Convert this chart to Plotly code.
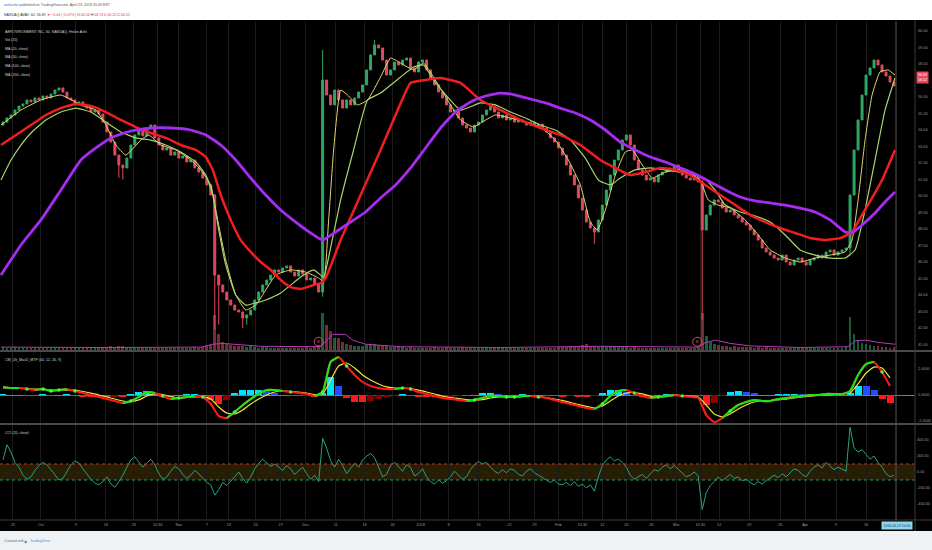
import plotly.graph_objects as go

W, H = 932, 550

# ---------------- data ----------------
bar_x = list(range(2, 898, 4))          # hourly bar index (sampled)
first_open = 54.30
close = [
    54.48, 54.73, 54.91, 55.21, 55.45, 55.58, 55.82, 55.70, 55.94, 55.82,
    56.06, 55.94, 56.18, 56.42, 56.55, 56.30, 55.94, 55.82, 55.58, 55.70,
    55.45, 55.33, 55.09, 55.21, 54.97, 54.48, 53.88, 53.27, 52.48, 51.88,
    51.70, 52.30, 53.09, 53.70, 54.00, 53.64, 54.12, 54.30, 53.52, 53.09,
    52.79, 52.91, 52.48, 52.67, 52.30, 52.42, 52.06, 52.18, 51.70, 51.45,
    51.09, 50.67, 50.06, 45.21, 44.61, 44.18, 43.70, 43.39, 43.09, 42.97,
    42.61, 42.79, 43.09, 43.70, 44.18, 44.61, 44.91, 45.21, 45.52, 45.39,
    45.64, 45.76, 45.39, 45.15, 45.52, 45.27, 44.91, 45.03, 44.67, 44.18,
    57.03, 56.12, 55.52, 56.42, 55.82, 55.33, 55.82, 55.52, 55.94, 56.30,
    56.73, 57.64, 58.55, 59.15, 58.97, 58.24, 57.33, 57.64, 58.12, 57.94,
    58.24, 58.36, 57.76, 57.52, 58.12, 58.24, 57.64, 57.15, 56.73, 56.30,
    55.94, 55.52, 55.09, 55.21, 54.73, 54.30, 54.12, 53.88, 54.30, 54.48,
    54.91, 55.21, 55.45, 55.09, 54.73, 54.91, 54.61, 54.73, 54.48, 54.61,
    54.48, 54.30, 54.48, 54.24, 54.36, 54.12, 53.88, 53.52, 53.27, 52.91,
    52.48, 51.88, 51.27, 50.67, 49.88, 49.15, 48.42, 48.06, 47.82, 48.55,
    49.45, 50.36, 51.27, 52.18, 52.79, 53.39, 53.70, 53.09, 52.18, 51.58,
    51.27, 50.97, 51.09, 50.85, 51.27, 51.45, 51.70, 51.58, 51.88, 51.45,
    51.27, 51.09, 50.97, 51.21, 50.85, 47.94, 48.85, 49.45, 49.76, 49.64,
    49.27, 49.03, 49.15, 48.85, 48.67, 48.42, 48.24, 47.94, 47.64, 47.33,
    46.85, 46.61, 46.42, 46.24, 46.12, 46.42, 46.00, 45.82, 46.12, 46.24,
    46.00, 45.82, 46.12, 46.24, 46.42, 46.24, 46.61, 46.73, 46.42, 46.61,
    46.73, 46.85, 50.06, 52.79, 54.61, 56.12, 57.33, 57.76, 58.24, 57.94,
    57.52, 57.27, 56.91, 56.67,
]
wick_high = {53: 50.10, 80: 58.85, 93: 59.45, 175: 51.00}
wick_low = {29: 51.10, 30: 51.00, 53: 41.90, 54: 42.20, 60: 42.00, 61: 42.20,
            80: 43.90, 148: 47.10, 175: 42.50, 212: 46.50}

volume_k = [
    8, 6, 5, 7, 5, 6, 5, 4, 6, 5,
    5, 4, 6, 5, 4, 5, 6, 5, 4, 5,
    5, 6, 5, 4, 6, 8, 7, 9, 8, 10,
    9, 7, 6, 5, 6, 5, 6, 5, 4, 5,
    5, 4, 5, 6, 5, 4, 5, 6, 7, 6,
    8, 9, 12, 85, 40, 20, 15, 12, 10, 9,
    10, 8, 9, 7, 6, 7, 8, 6, 5, 6,
    5, 6, 5, 6, 5, 6, 7, 6, 8, 12,
    90, 60, 45, 30, 30, 20, 15, 12, 10, 9,
    10, 12, 14, 15, 12, 10, 9, 8, 7, 8,
    7, 6, 7, 6, 5, 6, 5, 6, 7, 6,
    6, 7, 6, 5, 6, 7, 6, 5, 6, 5,
    5, 6, 5, 4, 5, 6, 5, 4, 5, 4,
    4, 5, 4, 5, 4, 5, 6, 5, 6, 7,
    7, 8, 9, 8, 10, 12, 14, 10, 9, 8,
    9, 8, 10, 9, 8, 7, 8, 6, 7, 6,
    6, 5, 6, 5, 6, 5, 4, 5, 4, 5,
    5, 6, 5, 6, 8, 90, 35, 20, 14, 12,
    10, 9, 8, 9, 8, 7, 8, 7, 6, 7,
    6, 7, 6, 5, 6, 5, 6, 5, 4, 5,
    5, 4, 5, 4, 5, 4, 5, 6, 5, 6,
    6, 8, 80, 40, 25, 18, 14, 12, 10, 9,
    8, 7, 6, 7,
]
volma_x = [0, 100, 200, 212, 222, 240, 260, 320, 326, 332, 345, 352, 365, 380,
           400, 500, 600, 698, 705, 715, 730, 750, 800, 848, 855, 865, 880, 895]
volma_k = [7, 6, 7, 14, 16, 13, 9, 8, 22, 38, 38, 24, 14, 11,
           8, 6, 9, 7, 18, 24, 16, 10, 6, 8, 22, 24, 18, 14]
earnings_x = [318, 697]

ma20_x = [0, 20, 40, 60, 80, 95, 105, 115, 125, 140, 148, 160, 175, 190, 200,
          210, 215, 225, 235, 245, 255, 265, 275, 290, 305, 318, 323, 328, 333, 340,
          347, 357, 367, 380, 390, 400, 413, 423, 433, 447, 460, 473, 480, 495, 510,
          525, 540, 555, 568, 580, 590, 597, 605, 615, 625, 632, 642, 652, 665, 680,
          692, 700, 708, 718, 730, 745, 758, 770, 785, 800, 815, 830, 845, 852, 858,
          865, 872, 880, 888, 895]
ma20 = [54.30, 55.21, 55.82, 56.12, 55.52, 55.21, 54.30, 53.09, 52.48, 53.39,
        53.70, 53.09, 52.79, 52.18, 51.58, 50.67, 49.15, 46.12, 44.00, 43.09,
        43.39, 44.30, 45.21, 45.52, 45.39, 45.03, 44.79, 48.55, 52.79, 56.42,
        56.12, 55.52, 55.82, 57.21, 58.36, 58.06, 57.64, 58.06, 57.21, 55.82,
        54.61, 54.18, 54.42, 54.91, 54.73, 54.48, 54.18, 53.39, 52.18, 50.67,
        48.42, 47.94, 49.15, 51.27, 52.67, 52.79, 51.88, 51.09, 51.45, 51.58,
        51.27, 50.97, 49.76, 49.45, 49.27, 48.55, 47.64, 46.73, 46.24, 46.00,
        46.24, 46.42, 46.61, 47.33, 49.76, 53.39, 56.12, 57.52, 57.64, 57.33]

ma50_x = [0, 10, 20, 30, 45, 60, 75, 90, 105, 120, 135, 150, 165, 180, 195,
          205, 212, 218, 225, 235, 245, 255, 265, 280, 300, 313, 323, 327, 340, 353,
          367, 380, 400, 413, 423, 433, 447, 460, 480, 495, 510, 525, 540, 555, 570,
          585, 598, 610, 620, 635, 650, 665, 680, 695, 705, 715, 725, 740, 755, 770,
          785, 800, 815, 830, 845, 855, 865, 875, 885, 895]
ma50 = [50.97, 52.18, 53.09, 53.82, 54.61, 55.09, 55.33, 55.09, 54.48, 53.88,
        53.52, 53.39, 53.09, 52.67, 52.06, 51.27, 50.06, 47.94, 45.82, 44.00,
        43.39, 43.52, 43.70, 44.12, 45.09, 45.52, 45.09, 46.00, 49.76, 52.79,
        55.82, 56.24, 57.21, 57.82, 57.94, 57.03, 56.00, 55.21, 55.64, 55.52,
        55.09, 54.73, 54.30, 54.00, 53.39, 52.30, 50.97, 50.67, 51.09, 51.58,
        51.70, 51.58, 51.45, 51.27, 51.03, 50.36, 49.45, 49.03, 48.79, 48.42,
        47.64, 46.73, 46.42, 46.24, 46.24, 46.73, 49.15, 52.18, 55.21, 57.15]

ma100_x = [0, 15, 30, 45, 60, 75, 90, 105, 120, 135, 150, 165, 180, 195, 205,
           212, 220, 230, 240, 250, 260, 270, 280, 290, 300, 310, 320, 325, 340, 360,
           380, 395, 410, 425, 440, 460, 480, 500, 520, 540, 560, 580, 600, 615, 630,
           645, 660, 675, 690, 705, 720, 735, 750, 765, 780, 795, 810, 825, 840, 852,
           862, 872, 882, 895]
ma100 = [53.09, 53.70, 54.30, 54.91, 55.33, 55.58, 55.45, 55.09, 54.61, 54.18,
         53.82, 53.52, 53.09, 52.79, 52.36, 51.58, 50.06, 48.55, 47.33, 46.61,
         46.00, 45.52, 44.91, 44.48, 44.36, 44.55, 44.73, 45.03, 47.33, 50.06,
         52.79, 54.91, 56.85, 57.03, 57.15, 56.85, 55.82, 55.21, 54.61, 54.12,
         53.70, 53.09, 52.18, 51.70, 51.27, 51.45, 51.70, 51.58, 51.27, 50.67,
         50.06, 49.45, 48.85, 48.42, 48.06, 47.76, 47.45, 47.33, 47.45, 47.82,
         48.85, 49.88, 50.97, 52.79]

ma200_x = [0, 20, 40, 60, 80, 95, 110, 130, 150, 170, 190, 205, 220, 235, 250,
           265, 280, 295, 310, 322, 335, 350, 365, 380, 395, 410, 425, 440, 455, 470,
           485, 500, 515, 530, 545, 560, 575, 590, 605, 620, 635, 650, 665, 680, 695,
           710, 725, 740, 755, 770, 785, 800, 815, 830, 845, 852, 862, 875, 885, 895]
ma200 = [45.21, 47.03, 48.55, 50.36, 52.18, 52.91, 53.52, 53.94, 54.12, 54.12,
         54.00, 53.70, 53.09, 52.18, 51.09, 50.06, 49.15, 48.42, 47.76, 47.33,
         47.82, 48.42, 49.03, 49.88, 50.67, 51.70, 52.91, 54.12, 55.09, 55.70,
         56.06, 56.24, 56.12, 55.88, 55.64, 55.33, 55.03, 54.61, 54.00, 53.27,
         52.79, 52.36, 52.06, 51.70, 51.33, 50.85, 50.36, 49.94, 49.70, 49.58,
         49.45, 49.27, 49.03, 48.55, 47.82, 47.76, 48.24, 48.97, 49.64, 50.24]

macd_x = list(range(2, 898, 8))
macd = [0.62, 0.54, 0.54, 0.46, 0.38, 0.46, 0.31, 0.38, 0.46, 0.31,
        0.15, 0.0, -0.15, -0.31, -0.46, -0.62, -0.46, -0.15, 0.23, 0.15,
        -0.08, -0.31, -0.23, -0.15, -0.08, -0.15, -0.69, -1.62, -1.77, -1.31,
        -0.77, -0.31, 0.08, 0.38, 0.38, 0.31, 0.23, 0.15, 0.08, -0.08,
        0.23, 2.54, 2.92, 2.23, 1.54, 1.0, 0.69, 0.54, 0.46, 0.46,
        0.54, 0.46, 0.23, 0.08, -0.08, -0.23, -0.31, -0.38, -0.46, -0.38,
        -0.23, -0.08, -0.08, -0.15, -0.15, -0.08, -0.08, -0.15, -0.23, -0.38,
        -0.54, -0.69, -0.85, -1.0, -1.08, -0.69, -0.08, 0.31, 0.38, 0.15,
        -0.08, -0.23, -0.15, -0.08, 0.0, -0.08, -0.15, -0.23, -1.54, -2.08,
        -1.77, -1.23, -0.77, -0.54, -0.38, -0.46, -0.46, -0.31, -0.23, -0.15,
        -0.08, 0.0, 0.0, 0.08, 0.08, 0.08, 0.31, 1.54, 2.38, 2.54,
        1.77, 0.69]
signal = [0.54, 0.54, 0.54, 0.50, 0.46, 0.42, 0.38, 0.38, 0.38, 0.38,
          0.27, 0.15, 0.0, -0.15, -0.31, -0.46, -0.50, -0.38, -0.08, 0.08,
          0.04, -0.12, -0.23, -0.19, -0.15, -0.12, -0.31, -0.92, -1.38, -1.46,
          -1.15, -0.69, -0.31, 0.0, 0.23, 0.31, 0.27, 0.23, 0.15, 0.04,
          0.08, 1.15, 2.23, 2.46, 2.08, 1.54, 1.15, 0.85, 0.62, 0.54,
          0.50, 0.50, 0.38, 0.23, 0.08, -0.08, -0.19, -0.27, -0.35, -0.38,
          -0.35, -0.23, -0.15, -0.12, -0.15, -0.12, -0.08, -0.12, -0.19, -0.31,
          -0.42, -0.58, -0.73, -0.88, -1.0, -0.85, -0.46, -0.08, 0.15, 0.19,
          0.08, -0.08, -0.15, -0.12, -0.04, -0.04, -0.08, -0.15, -0.77, -1.46,
          -1.69, -1.46, -1.08, -0.77, -0.54, -0.46, -0.46, -0.38, -0.31, -0.23,
          -0.15, -0.08, -0.04, 0.0, 0.04, 0.08, 0.15, 0.85, 1.69, 2.15,
          2.08, 1.31]

cci = [
    150, 340, 250, 120, 60, -40, -90, -60, 20, 80,
    120, 90, 30, -40, -100, -80, 10, 90, 140, 110,
    40, -30, -90, -140, -160, -120, -60, -150, -190, -120,
    -40, 60, 150, 190, 120, 60, 110, 160, 90, -20,
    -90, -60, 10, 70, 40, -30, -80, -40, 20, -20,
    -80, -130, -160, -290, -220, -130, -170, -120, -60, 0,
    -80, -140, -60, 40, 110, 160, 120, 70, 100, 60,
    20, 80, 40, -30, 10, 60, -20, -90, -40, -120,
    420, 300, 140, 60, 160, 80, -20, 40, 110, 60,
    150, 200, 230, 180, 60, -60, -30, 80, 120, 60,
    10, 90, 60, -50, -20, 40, -60, -120, -150, -100,
    -140, -110, -60, 10, -40, -90, -60, 30, 90, 130,
    100, 120, 60, 10, -20, 30, -10, 40, 20, -30,
    -50, 10, 40, -10, -40, -70, -110, -130, -100, -150,
    -160, -130, -170, -120, -180, -150, -200, -160, -240, -60,
    80, 150, 190, 140, 160, 120, 60, -40, -90, -60,
    -30, -80, -20, 30, 10, 60, 90, 40, 80, 30,
    -20, -60, -40, 0, -50, -470, -260, -170, -120, -60,
    -110, -70, -30, -80, -60, -110, -90, -130, -160, -120,
    -150, -110, -80, -40, -70, -20, -60, -10, 40, 20,
    -30, -60, 10, 60, 90, 50, 120, 70, 30, 60,
    40, 10, 560, 300, 250, 280, 220, 160, 200, 120,
    60, -20, -60, -40,
]

price_ticks = list(range(41, 61))
macd_ticks = [-2, 0, 2]
cci_ticks = [-400, -200, 0, 200, 400]
time_tickvals = [12, 40, 75, 105, 133, 157, 178, 206, 228, 255, 280, 305, 335, 364,
                 392, 420, 448, 478, 509, 534, 558, 582, 602, 626, 651, 676, 700,
                 719, 749, 780, 805, 836, 866]
time_ticktext = ["25", "Oct", "9", "16", "23", "10:30", "Nov", "7", "13", "20", "27",
                 "Dec", "11", "18", "26", "2018", "8", "16", "22", "29", "Feb", "10:30",
                 "12", "20", "26", "Mar", "10:30", "12", "19", "26", "Apr", "9", "16"]
crosshair_x = 896
crosshair_label = "2018-04-23 10:00"
last_price_lines = ["56.69", "56.52"]

# ---------------- derived marks ----------------
UP, DOWN = '#2fa865', '#e04a5f'
opens = [first_open] + close[:-1]
highs = [wick_high.get(i, max(o, c)) for i, (o, c) in enumerate(zip(opens, close))]
lows = [wick_low.get(i, min(o, c)) for i, (o, c) in enumerate(zip(opens, close))]
vol_colors = ['rgba(47,168,101,0.55)' if c >= o else 'rgba(224,74,95,0.55)'
              for o, c in zip(opens, close)]

state = [m >= s for m, s in zip(macd, signal)]
n = len(macd)
lime_y = [m if (state[i] or (i + 1 < n and state[i + 1])) else None for i, m in enumerate(macd)]
cross_x = [macd_x[i] for i in range(1, n) if state[i] != state[i - 1]]
cross_y = [macd[i] for i in range(1, n) if state[i] != state[i - 1]]
hist = [m - s for m, s in zip(macd, signal)]
hist_colors = []
for i, h in enumerate(hist):
    p = hist[i - 1] if i > 0 else h
    if h > 0:
        hist_colors.append('#00e5ff' if h >= p else '#1f4fff')
    else:
        hist_colors.append('#ff1a1a' if h <= p else '#8b0000')

# ---------------- geometry ----------------
def py(y):
    return 1 - y / H

XD = 915 / W
FONT = "Liberation Sans, Arial, sans-serif"

fig = go.Figure()

# volume (base axis of main pane)
fig.add_trace(go.Bar(x=bar_x, y=volume_k, marker_color=vol_colors, marker_line_width=0,
                     width=2.8, xaxis='x', yaxis='y'))
fig.add_trace(go.Scatter(x=volma_x, y=volma_k, mode='lines',
                         line=dict(color='#b23cb8', width=1), xaxis='x', yaxis='y'))
fig.add_trace(go.Scatter(x=earnings_x, y=[20, 20], mode='markers+text', text=['E', 'E'],
                         textfont=dict(size=4, color='#e0506a', family=FONT),
                         marker=dict(symbol='circle-open', size=9, color='#d0506a',
                                     line=dict(width=1)),
                         xaxis='x', yaxis='y'))

# price (overlay axis)
fig.add_trace(go.Candlestick(x=bar_x, open=opens, high=highs, low=lows, close=close,
                             increasing=dict(line=dict(color=UP, width=1), fillcolor=UP),
                             decreasing=dict(line=dict(color=DOWN, width=1), fillcolor=DOWN),
                             whiskerwidth=0, xaxis='x', yaxis='y2'))
for xs, ys, col, wd in [(ma20_x, ma20, '#e3d56a', 1.0), (ma50_x, ma50, '#a5d66e', 1.2),
                        (ma100_x, ma100, '#f01e1e', 2.5), (ma200_x, ma200, '#a52cf0', 2.8)]:
    fig.add_trace(go.Scatter(x=xs, y=ys, mode='lines',
                             line=dict(color=col, width=wd, shape='spline', smoothing=0.4),
                             xaxis='x', yaxis='y2'))

# MACD pane
fig.add_trace(go.Bar(x=macd_x, y=hist, marker_color=hist_colors, marker_line_width=0,
                     width=7.0, xaxis='x2', yaxis='y3'))
fig.add_trace(go.Scatter(x=macd_x, y=signal, mode='lines',
                         line=dict(color='#f2e33c', width=1.2, shape='spline', smoothing=0.5),
                         xaxis='x2', yaxis='y3'))
fig.add_trace(go.Scatter(x=macd_x, y=macd, mode='lines',
                         line=dict(color='#ff1a1a', width=2.1, shape='spline', smoothing=0.5),
                         xaxis='x2', yaxis='y3'))
fig.add_trace(go.Scatter(x=macd_x, y=lime_y, mode='lines', connectgaps=False,
                         line=dict(color='#19e619', width=2.1, shape='spline', smoothing=0.5),
                         xaxis='x2', yaxis='y3'))
fig.add_trace(go.Scatter(x=cross_x, y=cross_y, mode='markers',
                         marker=dict(color='#3cff3c', size=3.5), xaxis='x2', yaxis='y3'))

# CCI pane
fig.add_trace(go.Scatter(x=bar_x, y=cci, mode='lines', line=dict(color='#27a37f', width=1),
                         xaxis='x3', yaxis='y4'))

grid = dict(showgrid=True, gridcolor='#1b1b1b', gridwidth=1, tickmode='array',
            tickvals=time_tickvals, zeroline=False, showline=False, range=[-1, 915],
            domain=[0, XD], fixedrange=True)
axfont = dict(size=3.8, color='#9c9c9c', family=FONT)

fig.update_layout(
    width=W, height=H, margin=dict(l=0, r=0, t=0, b=0),
    paper_bgcolor='#ffffff', plot_bgcolor='#000000', showlegend=False,
    hovermode=False, dragmode=False, bargap=0,
    font=dict(family=FONT, size=4, color='#cccccc'),
    xaxis=dict(**grid, anchor='y', showticklabels=False, rangeslider=dict(visible=False)),
    xaxis2=dict(**grid, anchor='y3', showticklabels=False, matches='x'),
    xaxis3=dict(**grid, anchor='y4', ticktext=time_ticktext, showticklabels=True,
                tickfont=axfont, ticks='', ticklabelstandoff=2, matches='x'),
    yaxis=dict(domain=[py(350), py(21)], range=[0, 800], visible=False, anchor='x',
               fixedrange=True),
    yaxis2=dict(overlaying='y', anchor='x', side='right', range=[40.667, 60.606],
                tickmode='array', tickvals=price_ticks,
                ticktext=[f'{v:.2f}' for v in price_ticks], showgrid=False, zeroline=False,
                tickfont=axfont, ticks='', ticklabelstandoff=2, fixedrange=True),
    yaxis3=dict(domain=[py(423), py(352)], anchor='x2', side='right',
                range=[-2.1538, 3.3077], tickmode='array', tickvals=macd_ticks,
                ticktext=[f'{v:.4f}' for v in macd_ticks], showgrid=False,
                zeroline=True, zerolinecolor='#7a7a7a', zerolinewidth=1,
                tickfont=axfont, ticks='', ticklabelstandoff=2, fixedrange=True),
    yaxis4=dict(domain=[py(519), py(425)], anchor='x3', side='right',
                range=[-587.5, 587.5], tickmode='array', tickvals=cci_ticks,
                ticktext=[f'{v:.2f}' for v in cci_ticks], showgrid=False, zeroline=False,
                tickfont=axfont, ticks='', ticklabelstandoff=1, fixedrange=True),
)

shapes = [
    dict(type='rect', xref='paper', yref='paper', x0=0, x1=1, y0=py(531), y1=py(20),
         fillcolor='#000000', line=dict(width=0), layer='below'),
    dict(type='rect', xref='paper', yref='paper', x0=0, x1=1, y0=0, y1=py(531),
         fillcolor='#eff2f5', line=dict(width=0), layer='below'),
    dict(type='rect', xref='x3', yref='y4', x0=-1, x1=915, y0=-100, y1=100,
         fillcolor='rgba(130,100,20,0.30)', line=dict(width=0), layer='below'),
    dict(type='line', xref='x3', yref='y4', x0=-1, x1=915, y0=100, y1=100,
         line=dict(color='#b8402c', width=1, dash='dot')),
    dict(type='line', xref='x3', yref='y4', x0=-1, x1=915, y0=-100, y1=-100,
         line=dict(color='#2e9a50', width=1, dash='dot')),
    dict(type='line', xref='paper', yref='paper', x0=0, x1=1, y0=py(351), y1=py(351),
         line=dict(color='#4a4a4a', width=2)),
    dict(type='line', xref='paper', yref='paper', x0=0, x1=1, y0=py(424), y1=py(424),
         line=dict(color='#4a4a4a', width=2)),
    dict(type='line', xref='paper', yref='paper', x0=0, x1=1, y0=py(520), y1=py(520),
         line=dict(color='#3a3a3a', width=1)),
    dict(type='line', xref='paper', yref='paper', x0=XD, x1=XD, y0=py(531), y1=py(20),
         line=dict(color='#3a3a3a', width=1)),
    dict(type='line', xref='x', yref='paper', x0=crosshair_x, x1=crosshair_x,
         y0=py(520), y1=py(21), line=dict(color='#555555', width=1)),
]
fig.update_layout(shapes=shapes)

ann = []
def txt(x, y, s, size=3.6, color='#cccccc', xanchor='left', **kw):
    ann.append(dict(x=x / W, y=py(y), xref='paper', yref='paper', text=s, showarrow=False,
                    xanchor=xanchor, yanchor='middle',
                    font=dict(size=size, color=color, family=FONT), **kw))

RED = '#e5344a'
txt(2, 5, "<span style='color:#2e6fd8'>avitlauler</span> published on TradingView.com, "
          "April 23, 2018 05:49 EST", color='#555555')
txt(2, 15, f"NASDAQ:AVAV, 60 &nbsp;56.69 <span style='color:{RED}'>▼ −0.04 (−0.07%)</span> "
           f"O:<span style='color:{RED}'>56.56</span> H:<span style='color:{RED}'>56.74</span> "
           f"L:<span style='color:{RED}'>56.20</span> C:<span style='color:{RED}'>56.52</span>",
    color='#333333')
legend_lines = ["AEROVIRONMENT INC, 60, NASDAQ, Heikin Ashi", "Vol (20)", "MA (20, close)",
                "MA (50, close)", "MA (100, close)", "MA (200, close)"]
for k, s in enumerate(legend_lines):
    txt(3, 32 + 8.5 * k, s, color='#d0d0d0')
txt(3, 360, "CM_Ult_MacD_MTF (60, 12, 26, 9)", color='#d0d0d0')
txt(3, 433, "CCI (20, close)", color='#d0d0d0')
txt(916, 77.5, "<br>".join(last_price_lines), size=3.6, color='#ffffff',
    bgcolor='#e8475b', borderpad=1)
txt(crosshair_x + 1, 525.5, crosshair_label, size=3.4, color='#0d3d6b', xanchor='center',
    bgcolor='#8ed6ea', borderpad=1.5)
txt(2, 541, "Created with", size=3.6, color='#666666')
txt(22, 541, "◆", size=4, color='#3d8fe0')
txt(28, 541, "TradingView", size=3.6, color='#3d8fe0')
fig.update_layout(annotations=ann)

fig.write_html("out.html", config={'displayModeBar': False, 'staticPlot': True})

# remove the browser's default page margin so the figure sits at the window origin
with open("out.html", encoding="utf-8") as f:
    page = f.read()
page = page.replace("<head>", "<head><style>html,body{margin:0;padding:0;overflow:hidden;}</style>", 1)
with open("out.html", "w", encoding="utf-8") as f:
    f.write(page)
